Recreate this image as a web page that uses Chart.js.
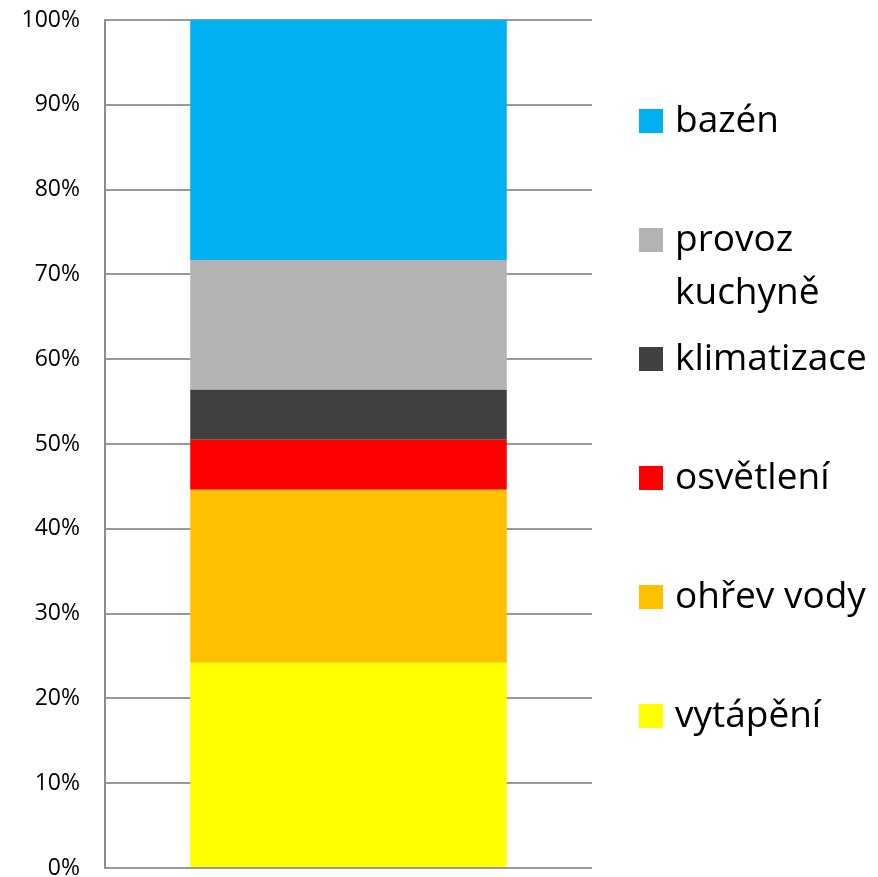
<!DOCTYPE html>
<html>
<head>
<meta charset="utf-8">
<script src="https://cdn.jsdelivr.net/npm/chart.js@4/dist/chart.umd.min.js"></script>
<style>
  body { margin: 0; background: #fff; }
  canvas { display: block; }
</style>
</head>
<body>
<canvas id="energy-chart" width="878" height="877"></canvas>
<script>
// Single stacked bar, shares in percent (bottom to top)
const categories = [''];
const seriesNames = ['vytápění', 'ohřev vody', 'osvětlení', 'klimatizace', 'provoz kuchyně', 'bazén'];
const seriesValues = [24.2, 20.4, 5.9, 5.9, 15.3, 28.3];
const seriesColors = ['#FFFF00', '#FFC000', '#FF0000', '#404040', '#B3B3B3', '#00B0F0'];
const yTicks = [0, 10, 20, 30, 40, 50, 60, 70, 80, 90, 100];

const FONT = '"Open Sans", Lato, sans-serif';

// Excel-like legend on the right, top entry first, evenly spaced
const sideLegend = {
  id: 'sideLegend',
  afterDraw(chart) {
    const ctx = chart.ctx;
    const area = chart.chartArea;
    const boxX = area.right + 47;
    const textX = boxX + 36;
    const maxW = chart.width - textX;
    const firstY = 121;
    const step = 119;
    const lineH = 53;
    ctx.save();
    ctx.font = '37px ' + FONT;
    ctx.textBaseline = 'middle';
    ctx.textAlign = 'left';
    const items = chart.data.datasets.slice().reverse();
    items.forEach((ds, i) => {
      const y = firstY + i * step;
      ctx.fillStyle = ds.backgroundColor;
      ctx.fillRect(boxX, y - 12, 24, 24);
      // simple word wrap
      const words = ds.label.split(' ');
      const lines = [];
      let cur = '';
      words.forEach(w => {
        const test = cur ? cur + ' ' + w : w;
        if (cur && ctx.measureText(test).width > maxW) {
          lines.push(cur);
          cur = w;
        } else {
          cur = test;
        }
      });
      lines.push(cur);
      ctx.fillStyle = '#000';
      lines.forEach((ln, j) => ctx.fillText(ln, textX, y + j * lineH));
    });
    ctx.restore();
  }
};

const datasets = seriesNames.map((name, i) => ({
  label: name,
  data: [seriesValues[i]],
  backgroundColor: seriesColors[i],
  borderWidth: 0,
  barPercentage: 0.65,
  categoryPercentage: 1
}));

new Chart(document.getElementById('energy-chart'), {
  type: 'bar',
  data: { labels: categories, datasets: datasets },
  options: {
    responsive: false,
    animation: false,
    layout: { padding: { top: 20, right: 286, bottom: 9, left: 0 } },
    plugins: {
      legend: { display: false },
      tooltip: { enabled: false }
    },
    scales: {
      x: {
        stacked: true,
        display: false
      },
      y: {
        stacked: true,
        min: 0,
        max: 100,
        afterBuildTicks: axis => { axis.ticks = yTicks.map(v => ({ value: v })); },
        afterFit: axis => {
          axis.width = 105;
          axis.paddingTop = 0;
          axis.paddingBottom = 0;
        },
        grid: { color: '#999999', lineWidth: 2, drawTicks: false },
        border: { display: true, color: '#8c8c8c', width: 2 },
        ticks: {
          padding: 25,
          color: '#000',
          font: { family: FONT, size: 23 },
          callback: v => v + '%'
        }
      }
    }
  },
  plugins: [sideLegend]
});
</script>
</body>
</html>
